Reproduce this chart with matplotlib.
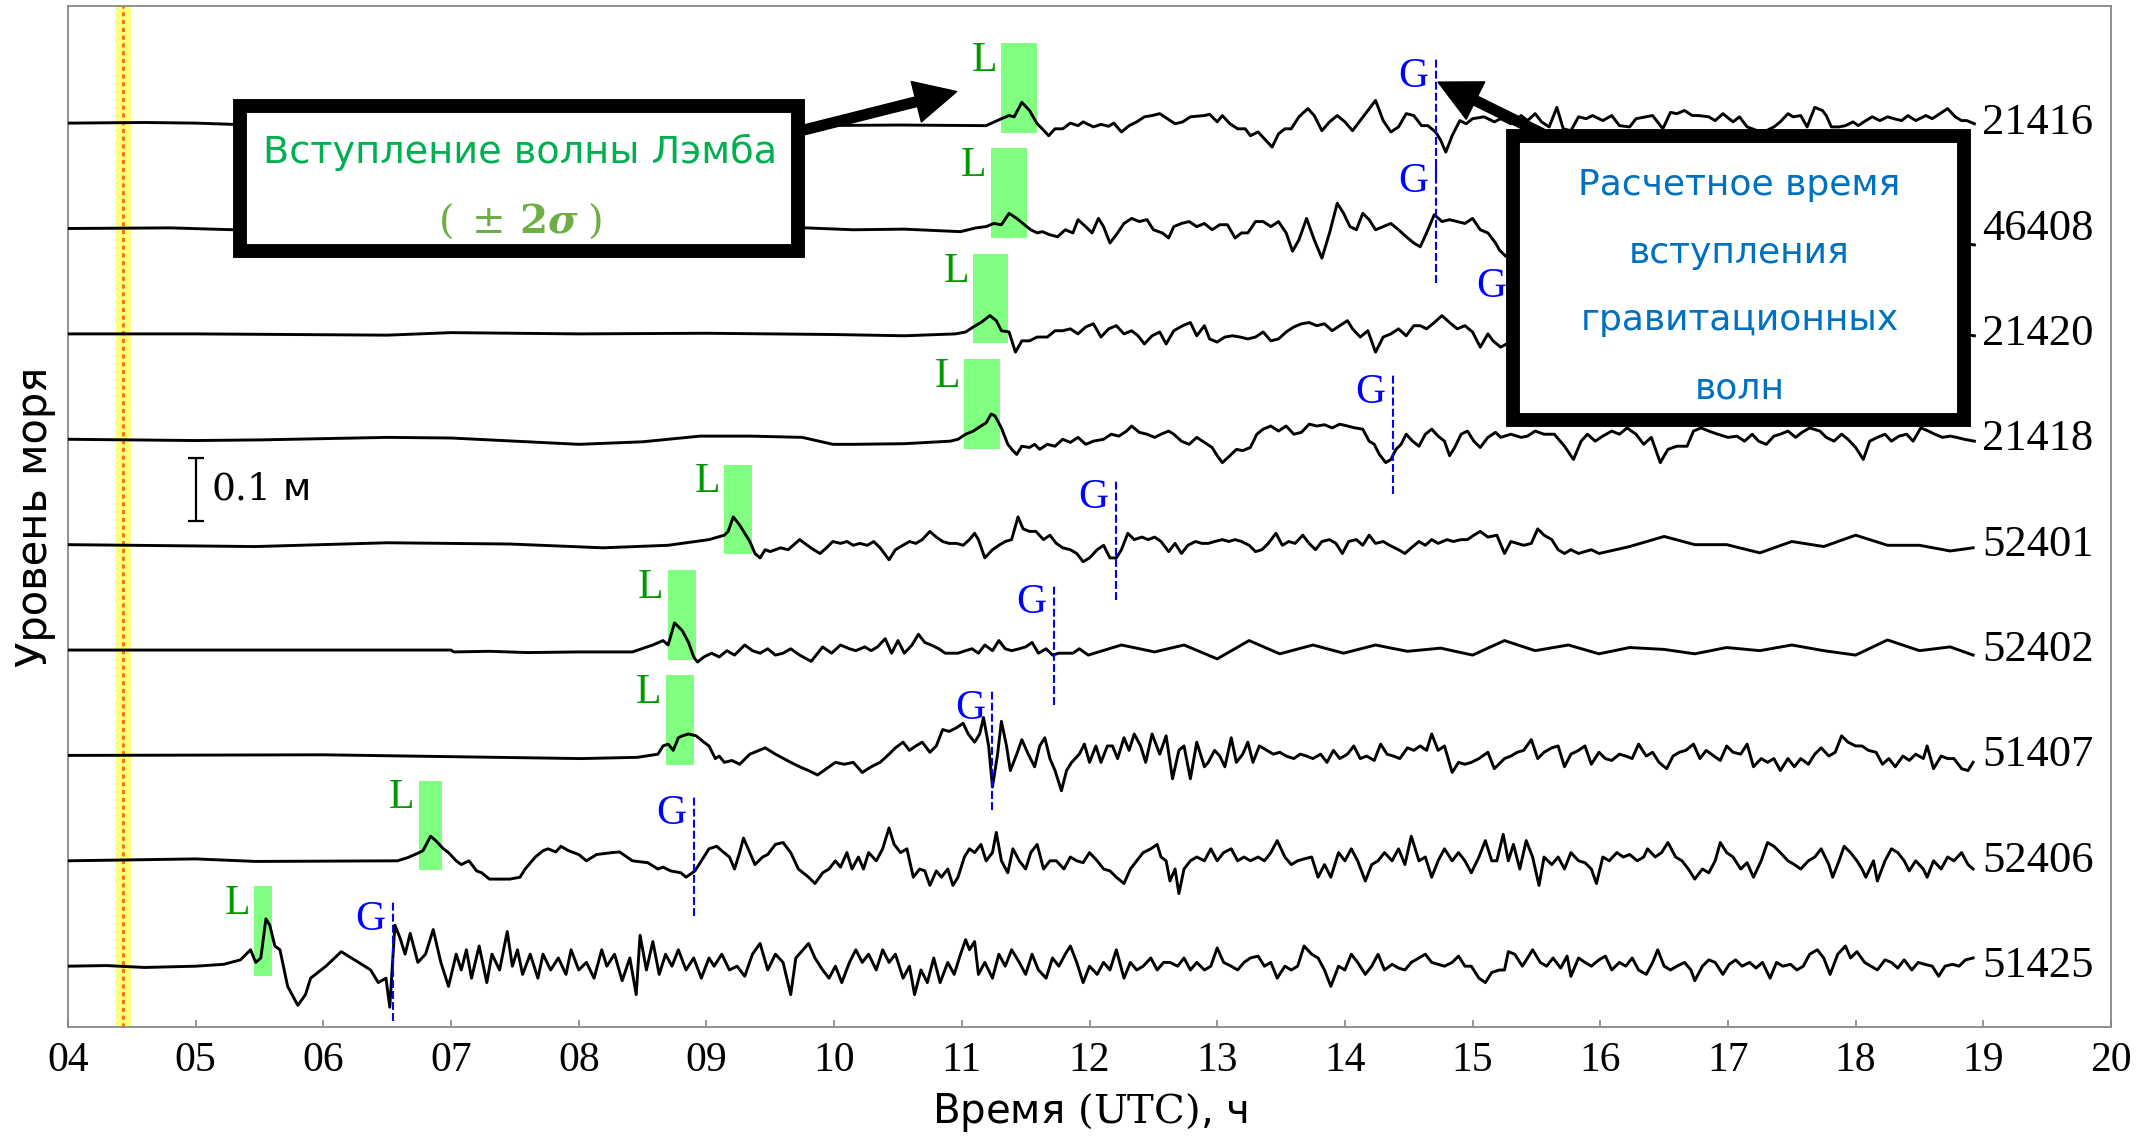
import numpy as np
import matplotlib
matplotlib.use("Agg")
import matplotlib.pyplot as plt
from matplotlib.patches import Rectangle

plt.rcParams['mathtext.fontset'] = 'custom'
plt.rcParams['mathtext.rm'] = 'DejaVu Serif'
plt.rcParams['mathtext.it'] = 'DejaVu Serif:italic'
plt.rcParams['mathtext.bf'] = 'DejaVu Serif:bold'
try:
    plt.rcParams['mathtext.bfit'] = 'DejaVu Serif:italic:bold'
except KeyError:
    pass

# ---------------- data (time in hours UTC, sea level in mm) ----------------
stations = ['21416', '46408', '21420', '21418', '52401', '52402', '51407', '52406', '51425']
lamb_start = [11.31, 11.23, 11.09, 11.02, 9.14, 8.70, 8.68, 6.75, 5.46]
lamb_end = [11.59, 11.51, 11.36, 11.30, 9.36, 8.92, 8.90, 6.93, 5.60]
grav_time = [14.71, 14.71, 15.32, 14.375, 12.21, 11.72, 11.24, 8.905, 6.546]
eruption_time = 4.43
eruption_band = (4.376, 4.494)
hour_ticks = list(range(4, 21))

s21416 = [(4.00,0),(4.60,1),(5.00,0),(5.30,-2),(7.00,-2),(9.00,-3),(9.80,-4),(10.50,-3),(11.19,-4),(11.31,7),(11.37,12),(11.41,10),(11.47,33),(11.53,20),(11.59,-1),(11.63,-9),(11.68,-20),(11.73,-9),(11.79,-9),(11.85,0),(11.91,-4),(11.95,2),(12.03,-6),(12.09,-2),(12.15,-5),(12.19,0),(12.25,-14),(12.31,-4),(12.37,2),(12.43,10),(12.49,12),(12.55,15),(12.61,7),(12.67,-1),(12.73,2),(12.79,10),(12.85,11),(12.90,12),(12.94,14),(13.00,2),(13.04,12),(13.10,-1),(13.16,-9),(13.22,-9),(13.26,-20),(13.32,-14),(13.38,-27),(13.43,-38),(13.48,-17),(13.53,-9),(13.58,-9),(13.64,10),(13.71,23),(13.76,12),(13.82,-12),(13.88,2),(13.94,12),(14.00,2),(14.06,-12),(14.12,4),(14.18,20),(14.24,36),(14.30,4),(14.36,-14),(14.42,-6),(14.48,15),(14.54,12),(14.60,-4),(14.65,-4),(14.71,-14),(14.75,-27),(14.79,-46),(14.84,-20),(14.90,4),(14.95,-1),(15.00,7),(15.09,10),(15.17,2),(15.22,7),(15.30,-1),(15.38,12),(15.43,4),(15.49,15),(15.54,2),(15.60,-6),(15.66,25),(15.71,-9),(15.77,-12),(15.83,10),(15.89,7),(15.94,12),(16.02,4),(16.09,12),(16.15,-4),(16.23,-6),(16.28,7),(16.36,10),(16.41,12),(16.49,-9),(16.55,17),(16.60,15),(16.66,20),(16.72,12),(16.77,12),(16.85,10),(16.90,4),(16.96,15),(17.04,2),(17.09,10),(17.15,-6),(17.23,-12),(17.30,-12),(17.36,-6),(17.41,2),(17.47,15),(17.51,10),(17.57,12),(17.62,-6),(17.68,25),(17.74,20),(17.77,12),(17.81,-6),(17.87,-6),(17.92,-4),(17.98,2),(18.02,-4),(18.08,4),(18.13,10),(18.19,4),(18.25,10),(18.30,7),(18.36,4),(18.41,12),(18.47,4),(18.55,12),(18.60,7),(18.66,15),(18.72,23),(18.78,10),(18.83,4),(18.87,4),(18.93,-1)]

s46408 = [(4.00,0),(4.80,1),(5.30,-2),(7.50,-1),(9.78,1),(10.15,-2),(10.55,-1),(10.99,-5),(11.11,1),(11.19,3),(11.25,8),(11.31,6),(11.37,24),(11.43,16),(11.49,6),(11.54,-2),(11.59,-7),(11.63,-5),(11.69,-10),(11.75,-13),(11.81,-2),(11.87,-7),(11.91,14),(11.97,3),(12.02,-7),(12.07,16),(12.11,3),(12.16,-23),(12.22,-7),(12.27,8),(12.33,16),(12.39,11),(12.45,14),(12.50,-2),(12.57,-7),(12.62,-15),(12.66,3),(12.72,8),(12.78,11),(12.84,3),(12.90,8),(12.96,-2),(13.02,6),(13.08,6),(13.14,-15),(13.19,-7),(13.24,-7),(13.30,11),(13.36,11),(13.42,3),(13.48,11),(13.54,-7),(13.59,-36),(13.64,-18),(13.70,16),(13.76,-18),(13.82,-47),(13.88,-7),(13.94,40),(13.99,24),(14.04,3),(14.09,-2),(14.14,24),(14.19,14),(14.24,-2),(14.30,3),(14.36,8),(14.42,-2),(14.48,-13),(14.54,-23),(14.59,-29),(14.64,-7),(14.70,22),(14.76,11),(14.82,14),(14.88,11),(14.94,8),(15.00,16),(15.06,-2),(15.12,-7),(15.18,-23),(15.21,-34),(15.26,-44),(15.50,-20),(16.00,10),(16.50,-5),(17.00,15),(17.50,-10),(18.00,5),(18.50,-15),(18.93,-26)]

s21420 = [(4.00,0),(5.00,0),(6.50,-2),(7.00,2),(8.00,0),(9.00,1),(10.00,-1),(10.55,-3),(10.95,0),(11.03,3),(11.09,11),(11.15,18),(11.22,29),(11.27,21),(11.31,5),(11.37,3),(11.42,-29),(11.47,-11),(11.53,-11),(11.59,-5),(11.67,-5),(11.73,5),(11.79,5),(11.85,8),(11.91,0),(11.97,11),(12.03,16),(12.09,-5),(12.15,8),(12.21,13),(12.27,0),(12.33,5),(12.38,-3),(12.43,-16),(12.49,-3),(12.55,3),(12.60,-16),(12.66,5),(12.73,13),(12.79,18),(12.84,-3),(12.90,13),(12.94,-8),(13.00,-13),(13.06,-5),(13.12,-3),(13.18,-5),(13.24,-8),(13.30,-5),(13.36,3),(13.42,-11),(13.48,-8),(13.54,3),(13.60,11),(13.66,16),(13.72,18),(13.78,13),(13.84,16),(13.90,5),(13.96,13),(14.02,21),(14.06,8),(14.12,-5),(14.18,5),(14.24,-29),(14.30,-5),(14.36,0),(14.42,8),(14.48,-3),(14.54,13),(14.59,13),(14.64,8),(14.70,18),(14.76,29),(14.82,18),(14.88,8),(14.94,13),(15.00,3),(15.06,-21),(15.12,0),(15.16,-11),(15.22,-21),(15.50,10),(16.00,-5),(16.50,12),(17.00,-8),(17.50,6),(18.00,-10),(18.50,8),(18.93,-3)]

s21418 = [(4.00,0),(4.50,-1),(5.00,-2),(5.50,-1),(6.00,1),(6.50,3),(7.00,2),(7.50,-3),(8.00,-8),(8.50,-4),(8.95,5),(9.35,5),(9.75,3),(9.99,-8),(10.15,-8),(10.55,-7),(10.91,-3),(10.97,0),(11.03,8),(11.09,13),(11.15,21),(11.19,26),(11.23,40),(11.26,37),(11.31,18),(11.36,-8),(11.40,-18),(11.43,-24),(11.47,-11),(11.53,-13),(11.57,-8),(11.61,-16),(11.67,-8),(11.73,-11),(11.79,0),(11.85,-5),(11.91,3),(11.97,-8),(12.03,-3),(12.11,0),(12.17,8),(12.23,5),(12.29,13),(12.33,21),(12.39,11),(12.45,8),(12.51,3),(12.56,8),(12.62,13),(12.66,8),(12.72,-3),(12.78,-8),(12.84,3),(12.90,-5),(12.96,-13),(13.00,-26),(13.04,-37),(13.10,-26),(13.15,-16),(13.20,-18),(13.26,-13),(13.31,8),(13.36,16),(13.42,21),(13.48,13),(13.54,21),(13.60,8),(13.66,11),(13.72,24),(13.78,21),(13.84,23),(13.90,18),(13.96,24),(14.02,21),(14.08,18),(14.14,16),(14.19,-3),(14.23,-8),(14.27,-24),(14.32,-37),(14.36,-32),(14.40,-16),(14.44,-8),(14.48,8),(14.53,-3),(14.58,-11),(14.63,8),(14.68,16),(14.73,5),(14.78,-3),(14.82,-26),(14.86,-13),(14.91,8),(14.96,13),(15.01,-3),(15.06,-13),(15.12,3),(15.18,11),(15.22,3),(15.30,8),(15.38,3),(15.43,5),(15.49,13),(15.56,8),(15.64,8),(15.72,-11),(15.79,-32),(15.85,-3),(15.90,8),(15.96,-3),(16.02,5),(16.09,13),(16.15,8),(16.21,18),(16.28,8),(16.34,-8),(16.40,3),(16.47,-37),(16.53,-16),(16.60,-11),(16.68,-11),(16.73,13),(16.79,18),(16.85,13),(16.92,8),(17.00,3),(17.07,5),(17.13,-3),(17.19,8),(17.24,-3),(17.30,-8),(17.36,5),(17.41,8),(17.47,13),(17.53,3),(17.58,11),(17.64,18),(17.72,13),(17.77,3),(17.83,-3),(17.89,8),(17.94,0),(18.00,-13),(18.06,-32),(18.11,-3),(18.17,3),(18.23,8),(18.28,-3),(18.34,5),(18.40,8),(18.45,-3),(18.51,18),(18.57,13),(18.62,8),(18.68,3),(18.74,5),(18.79,3),(18.85,0),(18.93,-3)]

s52401 = [(4.00,0),(5.47,-3),(6.50,3),(7.46,1),(8.19,-5),(8.70,-1),(9.02,8),(9.14,15),(9.17,21),(9.21,44),(9.26,31),(9.30,18),(9.34,5),(9.38,-14),(9.42,-21),(9.46,-8),(9.50,-11),(9.58,-5),(9.64,-8),(9.73,8),(9.79,-1),(9.84,-8),(9.89,-14),(9.94,-5),(9.99,5),(10.05,2),(10.10,5),(10.15,-1),(10.20,2),(10.26,-1),(10.31,5),(10.36,-5),(10.43,-24),(10.48,-8),(10.54,-1),(10.59,5),(10.64,2),(10.69,8),(10.75,21),(10.80,12),(10.85,5),(10.90,2),(10.96,2),(11.01,-1),(11.06,8),(11.10,18),(11.13,8),(11.18,-21),(11.24,-8),(11.29,-1),(11.34,5),(11.39,8),(11.44,44),(11.48,25),(11.53,21),(11.58,21),(11.64,8),(11.69,15),(11.74,2),(11.79,-5),(11.85,-8),(11.90,-14),(11.95,-27),(12.00,-21),(12.06,-8),(12.11,-1),(12.16,-21),(12.21,-21),(12.25,-8),(12.30,18),(12.35,8),(12.41,12),(12.46,8),(12.51,12),(12.56,5),(12.62,-11),(12.67,2),(12.72,-14),(12.77,-1),(12.83,5),(12.88,2),(12.93,2),(12.98,5),(13.04,8),(13.09,5),(13.14,8),(13.19,5),(13.25,-1),(13.30,-11),(13.35,-8),(13.40,2),(13.46,18),(13.51,-1),(13.56,5),(13.61,2),(13.67,15),(13.72,2),(13.77,-8),(13.82,5),(13.88,8),(13.93,2),(13.98,-14),(14.03,5),(14.09,8),(14.14,-1),(14.19,15),(14.24,2),(14.30,5),(14.35,-1),(14.42,-8),(14.47,-14),(14.52,-5),(14.58,5),(14.63,-1),(14.68,8),(14.73,2),(14.80,8),(14.85,5),(14.91,8),(14.96,8),(15.01,15),(15.06,21),(15.12,12),(15.19,15),(15.25,-14),(15.30,5),(15.35,2),(15.40,-1),(15.46,2),(15.51,25),(15.56,15),(15.62,8),(15.67,-8),(15.72,-14),(15.77,-8),(15.83,-14),(15.88,-11),(15.93,-8),(15.99,-14),(16.23,-3),(16.50,13),(16.74,0),(16.99,0),(17.25,-13),(17.50,5),(17.75,-3),(18.00,15),(18.25,-1),(18.50,-1),(18.74,-10),(18.92,-5)]

s52402 = [(4.00,0),(7.00,0),(7.02,-3),(7.30,-2),(7.60,-4),(8.00,-3),(8.42,-3),(8.58,8),(8.66,15),(8.70,8),(8.75,43),(8.81,31),(8.86,12),(8.90,-11),(8.93,-19),(8.98,-11),(9.04,-5),(9.10,-11),(9.16,-1),(9.22,-8),(9.30,8),(9.36,-1),(9.42,-5),(9.48,2),(9.54,-8),(9.60,-5),(9.66,2),(9.73,-8),(9.82,-18),(9.91,5),(9.98,-5),(10.05,8),(10.12,2),(10.17,-1),(10.24,5),(10.29,-1),(10.34,5),(10.40,18),(10.45,-5),(10.50,15),(10.55,-5),(10.61,8),(10.66,25),(10.71,12),(10.76,8),(10.82,2),(10.87,-5),(10.92,-5),(10.97,-5),(11.03,-1),(11.08,2),(11.13,-5),(11.18,8),(11.24,-1),(11.29,15),(11.34,2),(11.39,-1),(11.45,2),(11.50,5),(11.55,12),(11.60,-5),(11.66,2),(11.71,-8),(11.76,-5),(11.81,-5),(11.87,-5),(11.92,2),(11.99,-8),(12.25,8),(12.51,-3),(12.74,8),(13.00,-14),(13.25,15),(13.49,-6),(13.75,8),(13.99,-5),(14.24,8),(14.49,-2),(14.75,3),(15.00,-8),(15.25,15),(15.49,-1),(15.75,8),(15.99,-6),(16.23,4),(16.50,1),(16.74,-6),(16.99,4),(17.25,-1),(17.50,8),(17.75,-1),(18.00,-8),(18.25,16),(18.50,-1),(18.74,5),(18.92,-8)]

s51407 = [(4.00,0),(6.00,1),(8.02,-5),(8.46,-3),(8.62,2),(8.66,15),(8.70,18),(8.74,8),(8.78,28),(8.81,31),(8.86,34),(8.92,31),(8.98,21),(9.02,15),(9.07,-5),(9.10,-1),(9.14,-11),(9.20,-8),(9.26,-14),(9.34,2),(9.46,12),(9.54,2),(9.66,-11),(9.73,-18),(9.80,-24),(9.87,-31),(9.94,-21),(10.01,-11),(10.08,-14),(10.15,-11),(10.22,-27),(10.29,-18),(10.36,-11),(10.43,2),(10.48,12),(10.54,21),(10.59,8),(10.64,15),(10.69,21),(10.75,5),(10.80,15),(10.85,41),(10.90,38),(10.96,44),(11.01,51),(11.05,34),(11.10,21),(11.14,34),(11.17,60),(11.21,15),(11.24,-50),(11.28,2),(11.31,54),(11.35,15),(11.38,-24),(11.43,2),(11.47,25),(11.52,2),(11.57,-18),(11.61,15),(11.65,28),(11.69,-5),(11.73,-24),(11.78,-56),(11.82,-24),(11.86,-11),(11.92,2),(11.96,18),(12.00,-11),(12.05,15),(12.09,-11),(12.14,15),(12.18,15),(12.22,-5),(12.27,28),(12.31,8),(12.35,34),(12.40,15),(12.44,-11),(12.49,34),(12.55,2),(12.60,31),(12.65,-37),(12.70,8),(12.74,15),(12.79,-37),(12.84,21),(12.90,-18),(12.93,-11),(12.98,8),(13.02,-1),(13.06,-18),(13.11,28),(13.15,-11),(13.20,2),(13.24,21),(13.28,-11),(13.33,15),(13.39,8),(13.44,2),(13.49,5),(13.54,-1),(13.60,-5),(13.65,2),(13.70,-1),(13.75,-5),(13.81,2),(13.86,-11),(13.91,8),(13.96,-5),(14.02,2),(14.07,15),(14.12,-5),(14.17,-1),(14.23,-8),(14.28,18),(14.33,2),(14.38,-1),(14.43,-5),(14.49,12),(14.54,8),(14.59,15),(14.64,8),(14.68,34),(14.73,8),(14.78,15),(14.84,-27),(14.89,-11),(14.94,-14),(14.99,-11),(15.05,-5),(15.12,5),(15.17,-21),(15.25,-5),(15.30,-1),(15.35,5),(15.40,8),(15.46,25),(15.51,-5),(15.56,5),(15.62,12),(15.67,15),(15.72,-18),(15.77,2),(15.83,8),(15.88,15),(15.93,-14),(15.99,5),(16.04,-5),(16.09,-8),(16.15,2),(16.20,-1),(16.25,-5),(16.30,18),(16.36,-1),(16.41,5),(16.46,-11),(16.52,-21),(16.57,-1),(16.62,5),(16.67,8),(16.73,18),(16.78,-5),(16.83,8),(16.89,-1),(16.94,-8),(16.99,15),(17.04,5),(17.10,2),(17.15,18),(17.20,-18),(17.26,-5),(17.31,-11),(17.36,-5),(17.41,-24),(17.47,-5),(17.52,-18),(17.57,-5),(17.63,-14),(17.68,2),(17.73,12),(17.79,-1),(17.84,5),(17.89,31),(17.94,21),(18.00,15),(18.05,15),(18.10,8),(18.16,5),(18.21,-14),(18.26,-5),(18.31,-18),(18.37,-1),(18.42,-8),(18.47,2),(18.53,-5),(18.56,15),(18.61,-21),(18.67,-1),(18.72,-5),(18.77,-5),(18.83,-21),(18.88,-24),(18.92,-11)]

s52406 = [(4.00,0),(5.00,3),(5.47,-1),(6.58,0),(6.66,5),(6.74,12),(6.78,16),(6.84,39),(6.88,32),(6.94,19),(6.98,13),(7.04,0),(7.08,-6),(7.14,0),(7.20,-16),(7.24,-19),(7.30,-29),(7.46,-29),(7.54,-26),(7.58,-13),(7.66,6),(7.72,16),(7.76,19),(7.82,14),(7.86,23),(7.92,16),(8.00,10),(8.06,0),(8.14,10),(8.26,13),(8.32,14),(8.42,0),(8.54,-3),(8.62,-13),(8.66,-10),(8.72,-16),(8.80,-19),(8.84,-26),(8.91,-16),(8.96,0),(9.02,19),(9.08,23),(9.12,16),(9.18,6),(9.22,-13),(9.26,13),(9.29,36),(9.34,13),(9.38,-6),(9.44,6),(9.48,10),(9.54,26),(9.60,29),(9.66,13),(9.72,-13),(9.80,-26),(9.85,-36),(9.91,-19),(9.96,-13),(10.01,0),(10.05,-10),(10.10,13),(10.14,-13),(10.19,6),(10.23,-13),(10.27,13),(10.33,0),(10.38,19),(10.43,52),(10.47,26),(10.52,13),(10.57,19),(10.62,-26),(10.67,-13),(10.71,-16),(10.75,-39),(10.80,-16),(10.84,-26),(10.89,-13),(10.93,-39),(10.97,-26),(11.02,6),(11.06,19),(11.10,13),(11.15,26),(11.19,0),(11.24,13),(11.27,45),(11.31,0),(11.36,-19),(11.40,19),(11.45,0),(11.50,-13),(11.54,13),(11.59,26),(11.64,-13),(11.69,0),(11.74,0),(11.80,-13),(11.85,6),(11.90,0),(11.95,-3),(12.00,13),(12.06,0),(12.11,-13),(12.16,-16),(12.21,-26),(12.27,-36),(12.32,-13),(12.37,0),(12.42,13),(12.48,19),(12.53,26),(12.56,6),(12.60,0),(12.63,-32),(12.67,-13),(12.70,-52),(12.74,-13),(12.79,0),(12.84,6),(12.90,0),(12.95,19),(13.00,0),(13.05,13),(13.11,19),(13.16,0),(13.21,6),(13.26,0),(13.32,6),(13.37,0),(13.42,13),(13.47,32),(13.53,6),(13.58,-6),(13.63,0),(13.68,3),(13.74,6),(13.79,-26),(13.84,-6),(13.89,-26),(13.95,13),(14.00,0),(14.05,19),(14.10,0),(14.16,-32),(14.21,-6),(14.26,0),(14.31,13),(14.37,0),(14.42,19),(14.47,-6),(14.52,39),(14.58,0),(14.63,6),(14.68,-26),(14.73,0),(14.78,19),(14.84,0),(14.89,13),(14.94,0),(14.99,-19),(15.05,6),(15.10,32),(15.15,0),(15.19,0),(15.24,42),(15.28,0),(15.32,26),(15.37,-13),(15.42,32),(15.47,6),(15.52,-39),(15.56,6),(15.62,-6),(15.67,6),(15.72,-13),(15.77,13),(15.83,0),(15.88,-3),(15.93,-13),(15.97,-36),(16.02,6),(16.07,0),(16.13,13),(16.18,6),(16.23,10),(16.29,0),(16.34,6),(16.37,19),(16.43,6),(16.48,13),(16.53,29),(16.59,6),(16.64,0),(16.69,-13),(16.74,-29),(16.80,-13),(16.85,-19),(16.90,0),(16.94,29),(16.99,13),(17.04,6),(17.10,-13),(17.15,-3),(17.20,-26),(17.26,0),(17.31,29),(17.36,23),(17.41,13),(17.47,0),(17.52,-6),(17.57,-13),(17.63,0),(17.68,6),(17.73,19),(17.79,-6),(17.82,-26),(17.87,0),(17.91,23),(17.96,13),(18.01,0),(18.05,-13),(18.08,-26),(18.14,0),(18.17,-32),(18.23,0),(18.28,19),(18.33,13),(18.38,0),(18.42,-16),(18.47,0),(18.53,-13),(18.56,-26),(18.61,0),(18.67,-13),(18.72,6),(18.77,0),(18.83,13),(18.88,-6),(18.92,-13)]

s51425 = [(4.00,0),(4.30,1),(4.60,-2),(5.00,0),(5.22,3),(5.35,10),(5.43,26),(5.47,6),(5.51,13),(5.55,75),(5.58,65),(5.62,32),(5.66,26),(5.72,-32),(5.80,-62),(5.86,-45),(5.90,-19),(6.02,0),(6.14,23),(6.22,13),(6.30,3),(6.37,-6),(6.43,-26),(6.49,-19),(6.52,-65),(6.56,65),(6.60,45),(6.64,19),(6.68,52),(6.74,6),(6.80,19),(6.86,58),(6.92,6),(6.98,-32),(7.04,19),(7.08,-6),(7.12,26),(7.16,-19),(7.22,32),(7.28,-26),(7.32,19),(7.38,-6),(7.44,55),(7.48,0),(7.52,26),(7.56,-13),(7.62,19),(7.68,-19),(7.72,19),(7.78,-6),(7.84,13),(7.90,-13),(7.94,26),(8.00,-6),(8.06,6),(8.12,-19),(8.18,26),(8.22,0),(8.28,19),(8.34,-23),(8.40,13),(8.45,-45),(8.48,49),(8.53,-6),(8.58,39),(8.63,-13),(8.68,19),(8.73,0),(8.78,26),(8.84,-6),(8.90,13),(8.96,-19),(9.02,13),(9.06,0),(9.12,19),(9.18,-6),(9.24,0),(9.30,-16),(9.36,19),(9.42,36),(9.48,-6),(9.54,19),(9.60,6),(9.66,-45),(9.70,13),(9.80,36),(9.85,13),(9.91,-6),(9.96,-19),(10.01,0),(10.06,-26),(10.12,6),(10.17,26),(10.22,6),(10.27,19),(10.33,-6),(10.38,26),(10.43,6),(10.48,19),(10.54,-19),(10.59,0),(10.63,-45),(10.68,-6),(10.73,-26),(10.78,13),(10.83,-26),(10.89,6),(10.94,-13),(10.99,19),(11.03,42),(11.06,26),(11.10,39),(11.13,-13),(11.18,6),(11.24,-19),(11.29,19),(11.34,0),(11.39,26),(11.45,6),(11.50,-13),(11.55,19),(11.60,-6),(11.66,-19),(11.71,13),(11.76,0),(11.81,19),(11.85,32),(11.90,6),(11.95,-26),(12.00,0),(12.06,-13),(12.11,6),(12.16,-6),(12.21,26),(12.27,-19),(12.32,6),(12.37,-6),(12.42,0),(12.48,13),(12.53,-6),(12.58,6),(12.63,6),(12.69,0),(12.74,13),(12.79,-6),(12.84,6),(12.90,-6),(12.95,0),(13.00,29),(13.05,6),(13.11,0),(13.16,-6),(13.21,6),(13.26,13),(13.32,16),(13.37,0),(13.42,6),(13.47,-19),(13.53,0),(13.58,-6),(13.63,0),(13.68,32),(13.74,19),(13.79,13),(13.84,-6),(13.89,-32),(13.95,0),(14.00,-6),(14.05,19),(14.10,6),(14.16,-13),(14.21,0),(14.26,19),(14.31,-6),(14.37,3),(14.42,-3),(14.47,-6),(14.52,6),(14.58,13),(14.63,19),(14.68,6),(14.73,3),(14.78,0),(14.84,6),(14.89,16),(14.94,0),(14.99,0),(15.05,-19),(15.10,-26),(15.15,-10),(15.21,-6),(15.25,-6),(15.28,23),(15.33,19),(15.39,0),(15.44,16),(15.47,26),(15.53,6),(15.58,0),(15.63,13),(15.69,-3),(15.74,16),(15.77,-16),(15.83,13),(15.88,6),(15.93,0),(15.99,10),(16.04,16),(16.09,-6),(16.15,6),(16.20,0),(16.25,13),(16.30,-6),(16.36,-13),(16.41,6),(16.45,26),(16.50,0),(16.55,-6),(16.60,0),(16.66,6),(16.71,-6),(16.74,-23),(16.80,0),(16.85,10),(16.90,6),(16.96,-13),(17.01,3),(17.06,10),(17.11,0),(17.17,6),(17.22,-3),(17.27,6),(17.33,-19),(17.38,6),(17.43,0),(17.49,3),(17.54,-6),(17.59,0),(17.64,19),(17.70,26),(17.75,13),(17.80,-13),(17.86,19),(17.92,32),(17.96,13),(18.01,23),(18.07,6),(18.12,0),(18.17,-6),(18.23,10),(18.28,6),(18.33,-3),(18.38,10),(18.44,-6),(18.49,6),(18.54,3),(18.60,0),(18.65,-16),(18.70,0),(18.76,3),(18.81,0),(18.86,10),(18.92,13)]

series = [s21416, s46408, s21420, s21418, s52401, s52402, s51407, s52406, s51425]

# ---------------- layout constants ----------------
SPACING = 167.0          # mm between trace baselines
SCALE_BAR = 100.0        # mm (0.1 m)
SERIF = 'Liberation Serif'
L_COLOR = '#009A00'
G_COLOR = '#0000FF'

fig = plt.figure(figsize=(21.56, 11.41), dpi=100)
ax = fig.add_axes([0.03154, 0.09956, 0.9476, 0.8954])
ax.set_xlim(4, 20)
ax.set_ylim(-97, 8 * SPACING + 186)

# eruption marker
ax.axvspan(*eruption_band, color='#FFFF80', zorder=1, lw=0)
ax.axvline(eruption_time, color='#FF6A00', ls=(0, (1.5, 1.3)), lw=2.0, zorder=1.5)

n = len(stations)
for i, (name, data) in enumerate(zip(stations, series)):
    base = (n - 1 - i) * SPACING
    arr = np.array(data, dtype=float)
    t, v = arr[:, 0], arr[:, 1]
    # Lamb window
    ax.add_patch(Rectangle((lamb_start[i], base - 15), lamb_end[i] - lamb_start[i], 142,
                           facecolor='#80FF80', edgecolor='none', zorder=2))
    ax.text(lamb_start[i] - 0.035, base + 83, 'L', color=L_COLOR, fontsize=30,
            family=SERIF, ha='right', va='baseline', zorder=4)
    # trace
    ax.plot(t, base + v, color='black', lw=2.1, zorder=3, solid_joinstyle='round')
    # gravity wave arrival
    ax.plot([grav_time[i]] * 2, [base - 87, base + 103], color=G_COLOR,
            ls=(0, (3.8, 1.5)), lw=1.5, zorder=4)
    ax.text(grav_time[i] - 0.06, base + 58, 'G', color=G_COLOR, fontsize=30,
            family=SERIF, ha='right', va='baseline', zorder=4)
    # station label
    ax.text(18.99, base, name, fontsize=32, family=SERIF, ha='left', va='center', zorder=4)

# scale bar
ax.errorbar([5.0], [756], yerr=[SCALE_BAR / 2], color='black', capsize=6,
            lw=1.6, capthick=1.6, zorder=4)
ax.text(5.12, 756, r'$\mathrm{0.1}$ м', fontsize=27, ha='left', va='center', zorder=4)

# annotation boxes
ax.add_patch(Rectangle((5.35, 1132.7), 9.72 - 5.35, 1362.8 - 1132.7, facecolor='white',
                       edgecolor='black', lw=10, zorder=5))
ax.text(7.54, 1289, 'Вступление волны Лэмба', color='#00B050', fontsize=27.5,
        ha='center', va='center', zorder=6)
ax.text(7.54, 1179, r'$(\;\pm\,\mathbf{2}\boldsymbol{\sigma}\;)$', color='#70AD47',
        fontsize=29, ha='center', va='center', zorder=6)

ax.add_patch(Rectangle((15.32, 866.3), 18.85 - 15.32, 1315.2 - 866.3, facecolor='white',
                       edgecolor='black', lw=10, zorder=5))
for txt, yy in zip(['Расчетное время', 'вступления', 'гравитационных', 'волн'],
                   [1238, 1130, 1024, 916]):
    ax.text(17.09, yy, txt, color='#0070C0', fontsize=26, ha='center', va='center', zorder=6)

arrow_kw = dict(facecolor='black', edgecolor='black', width=7, headwidth=30,
                headlength=30, shrink=0.0)
ax.annotate('', xy=(10.96, 1386), xytext=(9.76, 1325), arrowprops=arrow_kw, zorder=7)
ax.annotate('', xy=(14.73, 1401), xytext=(15.56, 1318), arrowprops=arrow_kw, zorder=7)

# axes styling
ax.set_xticks(hour_ticks)
ax.set_xticklabels([f'{h:02d}' for h in hour_ticks], fontsize=30, family=SERIF)
ax.set_yticks([])
ax.tick_params(axis='x', direction='in', length=5, width=1.2, color='#888888', pad=10)
for sp in ax.spines.values():
    sp.set_color('#888888')
    sp.set_linewidth(1.3)

ax.set_xlabel(r'Время $\mathrm{(UTC)}$, ч', fontsize=29, labelpad=8)
ax.set_ylabel('Уровень моря', fontsize=30)
ax.yaxis.set_label_coords(-0.006, 0.5)

fig.savefig('out.png', dpi=100, facecolor='white')
